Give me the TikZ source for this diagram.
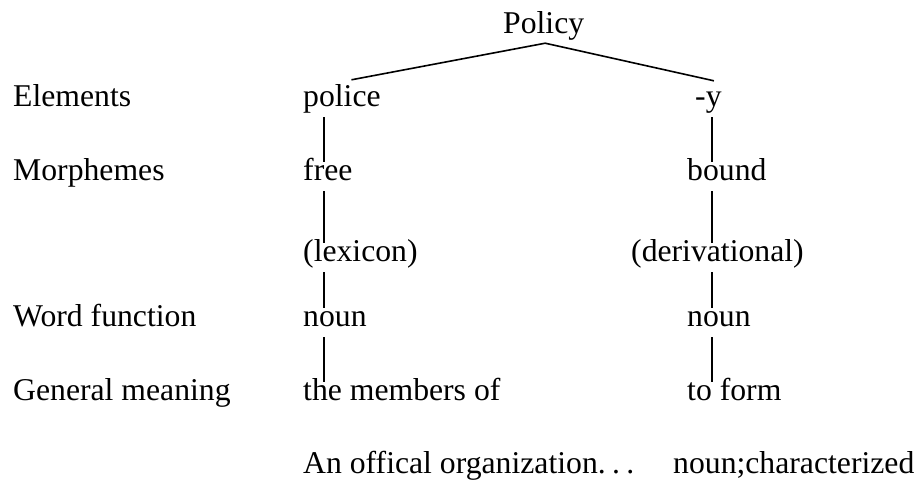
\documentclass[tikz,border=0pt]{standalone}
\usepackage{fontspec}
\setmainfont{Liberation Serif}
\begin{document}
\begin{tikzpicture}[x=1pt,y=-1pt,
  lbl/.style={anchor=base west, inner sep=0pt, text height=22pt, text depth=7pt,
              font=\fontsize{31.7pt}{38pt}\selectfont},
  branch/.style={line width=1.6pt},
  stem/.style={line width=1.4pt, shorten <=4pt, shorten >=-4pt}]
\useasboundingbox (0,0) rectangle (920,482);

% root word
\node[lbl] (top) at (503,33) {Policy};

% row captions
\node[lbl] (el)    at (13,106) {Elements};
\node[lbl] (morph) at (13,180) {Morphemes};
\node[lbl] (wf)    at (13,326) {Word function};
\node[lbl] (gm)    at (13,400) {General meaning};

% left branch: police
\node[lbl] (police)   at (303,106) {police};
\node[lbl] (free)     at (303,180) {free};
\node[lbl] (lex)      at (303,261) {(lexicon)};
\node[lbl] (nounL)    at (303,326) {noun};
\node[lbl] (membersL) at (303,400) {the members of};
\node[lbl] (orgL)     at (303,473) {An offical organization.\kern0.2em.\kern0.2em.};

% right branch: -y
\node[lbl] (suffix) at (695,106) {-y};
\node[lbl] (bound)  at (687,180) {bound};
\node[lbl] (deriv)  at (631,261) {(derivational)};
\node[lbl] (nounR)  at (687,326) {noun};
\node[lbl] (form)   at (687,400) {to form};
\node[lbl] (charR)  at (673,473) {noun;characterized};

% split from the root into the two elements
\draw[branch] ([xshift=9.5pt,yshift=4pt]police.north)
  -- ([xshift=1.5pt,yshift=-3pt]top.south)
  -- ([xshift=5.5pt,yshift=3pt]suffix.north);

% vertical stems of each column
\coordinate (colL) at (324,0);
\coordinate (colR) at (712,0);
\draw[stem] (police.south -| colL) -- (free.north -| colL);
\draw[stem] (free.south -| colL)   -- (lex.north -| colL);
\draw[stem] (lex.south -| colL)    -- (nounL.north -| colL);
\draw[stem] (nounL.south -| colL)  -- (membersL.north -| colL);

\draw[stem] (suffix.south -| colR) -- (bound.north -| colR);
\draw[stem] (bound.south -| colR)  -- (deriv.north -| colR);
\draw[stem] (deriv.south -| colR)  -- (nounR.north -| colR);
\draw[stem] (nounR.south -| colR)  -- (form.north -| colR);
\end{tikzpicture}
\end{document}
